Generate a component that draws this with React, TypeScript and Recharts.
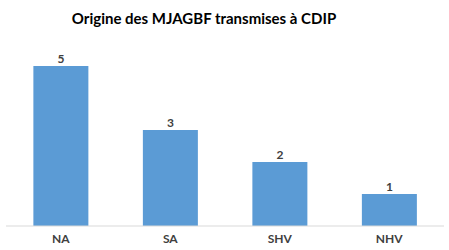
import { BarChart, Bar, XAxis, YAxis, LabelList } from 'recharts';

const categories = ['NA', 'SA', 'SHV', 'NHV'];
const counts = [5, 3, 2, 1];

const data = categories.map((name, i) => ({ name, count: counts[i] }));

export default function App() {
  return (
    <div style={{ position: 'absolute', left: 0, top: 0, width: 449, height: 250, background: '#fff' }}>
      <div
        style={{
          position: 'absolute',
          left: 0,
          top: 9,
          width: 408,
          textAlign: 'center',
          fontFamily: 'Lato, sans-serif',
          fontWeight: 700,
          fontSize: 15,
          color: '#000',
        }}
      >
        Origine des MJAGBF transmises à CDIP
      </div>
      <BarChart
        width={449}
        height={250}
        data={data}
        margin={{ top: 66, right: 5, bottom: 0, left: 6 }}
        barCategoryGap="25%"
      >
        <XAxis
          dataKey="name"
          height={24}
          tickLine={false}
          axisLine={{ stroke: '#d9d9d9' }}
          tick={{ fill: '#404040', fontSize: 12, fontWeight: 700, fontFamily: 'Lato, sans-serif' }}
          interval={0}
        />
        <YAxis hide domain={[0, 5]} />
        <Bar dataKey="count" fill="#5b9bd5" isAnimationActive={false}>
          <LabelList
            dataKey="count"
            position="top"
            offset={3}
            style={{ fill: '#404040', fontSize: 12, fontWeight: 700, fontFamily: 'Lato, sans-serif' }}
          />
        </Bar>
      </BarChart>
    </div>
  );
}
